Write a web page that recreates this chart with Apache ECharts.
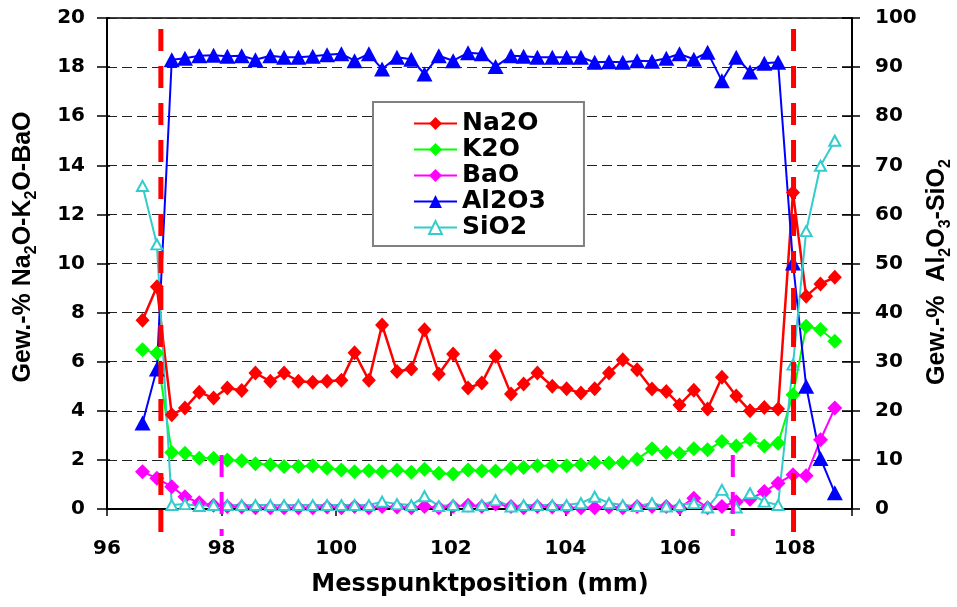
<!DOCTYPE html>
<html><head><meta charset="utf-8">
<script src="https://cdn.jsdelivr.net/npm/echarts/dist/echarts.min.js"></script>
<style>html,body{margin:0;padding:0;background:#fff}#c{width:957px;height:607px}</style>
</head><body><div id="c"></div>
<script>
// Measurement positions (mm)
const positions = [96.62, 96.87, 97.13, 97.36, 97.61, 97.86, 98.10, 98.35, 98.59, 98.85,
  99.09, 99.34, 99.59, 99.84, 100.09, 100.32, 100.57, 100.80, 101.06, 101.31,
  101.54, 101.79, 102.04, 102.30, 102.54, 102.78, 103.05, 103.27, 103.51, 103.77,
  104.02, 104.27, 104.51, 104.76, 105.00, 105.25, 105.51, 105.76, 105.99, 106.24,
  106.48, 106.73, 106.98, 107.22, 107.47, 107.71, 107.97, 108.20, 108.45, 108.70];
// left axis (Gew.-%)
const na2o = [7.69, 9.05, 3.84, 4.11, 4.76, 4.52, 4.93, 4.83, 5.54, 5.2,
  5.54, 5.2, 5.16, 5.2, 5.24, 6.36, 5.24, 7.5, 5.6, 5.7,
  7.3, 5.5, 6.31, 4.93, 5.13, 6.22, 4.68, 5.09, 5.54, 5.0,
  4.9, 4.72, 4.9, 5.54, 6.08, 5.67, 4.89, 4.79, 4.24, 4.84,
  4.07, 5.37, 4.6, 4.0, 4.13, 4.07, 12.89, 8.67, 9.17, 9.44];
const k2o = [6.49, 6.35, 2.3, 2.27, 2.07, 2.07, 2.0, 1.97, 1.84, 1.8,
  1.73, 1.73, 1.76, 1.66, 1.59, 1.52, 1.56, 1.52, 1.58, 1.5,
  1.62, 1.46, 1.43, 1.59, 1.55, 1.55, 1.66, 1.69, 1.76, 1.76,
  1.76, 1.8, 1.89, 1.87, 1.89, 2.03, 2.45, 2.3, 2.26, 2.45,
  2.41, 2.75, 2.57, 2.84, 2.57, 2.68, 4.65, 7.44, 7.31, 6.83];
const bao = [1.52, 1.25, 0.91, 0.5, 0.25, 0.15, 0.1, 0.08, 0.05, 0.05,
  0.05, 0.05, 0.05, 0.08, 0.05, 0.1, 0.05, 0.1, 0.08, 0.05,
  0.1, 0.05, 0.1, 0.15, 0.1, 0.2, 0.1, 0.05, 0.1, 0.08,
  0.05, 0.05, 0.05, 0.08, 0.05, 0.1, 0.1, 0.1, 0.05, 0.44,
  0.05, 0.1, 0.3, 0.4, 0.71, 1.05, 1.4, 1.35, 2.82, 4.11];
// right axis (Gew.-%)
const al2o3 = [17.5, 28.5, 91.5, 91.8, 92.3, 92.4, 92.2, 92.3, 91.5, 92.3,
  92.0, 92.0, 92.2, 92.5, 92.7, 91.3, 92.7, 89.6, 92.0, 91.6,
  88.6, 92.3, 91.3, 92.9, 92.7, 90.1, 92.3, 92.2, 92.0, 92.0,
  92.0, 92.0, 91.0, 91.1, 91.0, 91.3, 91.2, 91.8, 92.7, 91.6,
  93.0, 87.2, 92.0, 89.0, 90.8, 91.0, 50.1, 25.0, 10.3, 3.3];
const sio2 = [65.8, 53.9, 0.8, 1.0, 0.6, 0.8, 0.8, 0.8, 0.8, 0.8,
  0.8, 0.8, 0.8, 0.8, 0.8, 0.8, 0.8, 1.5, 1.0, 0.8,
  2.6, 0.6, 0.8, 0.5, 0.8, 1.8, 0.5, 0.8, 0.8, 0.8,
  0.8, 1.2, 2.5, 1.2, 0.8, 0.6, 1.2, 0.5, 0.8, 1.2,
  0.3, 3.9, 0.3, 3.2, 1.5, 0.8, 29.4, 56.6, 69.9, 75.0];
// boundary markers (mm)
const redMarkers = [96.94, 107.98];
const magentaMarkers = [98.0, 106.92];
const seriesNames = ['Na2O', 'K2O', 'BaO', 'Al2O3', 'SiO2'];

const pts = arr => positions.map((x, i) => [x, arr[i]]);
const FONT = 'DejaVu Sans';
const chart = echarts.init(document.getElementById('c'), null, {renderer: 'canvas'});

const lineSeries = (name, data, color, symbol, size, yIdx, extra) => Object.assign({
  name, type: 'line', data: pts(data), yAxisIndex: yIdx,
  symbol, symbolSize: size, showSymbol: true,
  lineStyle: {color, width: 2},
  itemStyle: {color, borderWidth: 0},
  emphasis: {disabled: true}, animation: false, z: 2
}, extra || {});

const markerLine = (x, color, yTop, yBot, width, dash) => ({
  type: 'line', data: [[x, yTop], [x, yBot]], yAxisIndex: 0, symbol: 'none',
  clip: false, silent: true, z: 5, animation: false,
  lineStyle: {color, width, type: dash, cap: 'butt'},
  emphasis: {disabled: true}
});

const axisLabelStyle = {fontFamily: FONT, fontWeight: 'bold', fontSize: 20, color: '#000'};
const titleRich = {
  n: {fontFamily: 'Liberation Sans', fontWeight: 'bold', fontSize: 25, lineHeight: 25, verticalAlign: 'top', fill: '#000'},
  s: {fontFamily: 'Liberation Sans', fontWeight: 'bold', fontSize: 16, lineHeight: 16, padding: [13, 0, 0, 0], verticalAlign: 'top', fill: '#000'}
};

const option = {
  animation: false,
  grid: {left: 107, right: 105, top: 18, bottom: 98, containLabel: false, outerBoundsMode: 'none',
    show: true, borderColor: '#000', borderWidth: 1.5, backgroundColor: 'transparent'},
  xAxis: {
    type: 'value', min: 96, max: 109, interval: 2,
    axisLine: {onZero: false, lineStyle: {color: '#000', width: 2}},
    axisTick: {show: true, inside: false, length: 7, lineStyle: {color: '#000', width: 1.5}},
    axisLabel: Object.assign({margin: 30, formatter: v => (v % 2 === 0 ? String(v) : '')}, axisLabelStyle),
    splitLine: {show: false}
  },
  yAxis: [
    {type: 'value', position: 'left', min: 0, max: 20, interval: 2,
      axisLine: {show: true, lineStyle: {color: '#000', width: 2}},
      axisTick: {show: true, length: 10, lineStyle: {color: '#000', width: 1.5}},
      axisLabel: Object.assign({margin: 22}, axisLabelStyle),
      splitLine: {show: true, lineStyle: {color: '#222', width: 1, type: [10, 5]}}},
    {type: 'value', position: 'right', min: 0, max: 100, interval: 10,
      axisLine: {show: true, lineStyle: {color: '#000', width: 2}},
      axisTick: {show: true, length: 8, lineStyle: {color: '#000', width: 1.5}},
      axisLabel: Object.assign({margin: 23}, axisLabelStyle),
      splitLine: {show: false}},
    {type: 'value', position: 'left', min: 0, max: 20, interval: 2,
      axisLine: {show: false}, axisLabel: {show: false}, splitLine: {show: false},
      axisTick: {show: true, inside: true, length: 3, lineStyle: {color: '#000', width: 1.5}}},
    {type: 'value', position: 'right', min: 0, max: 100, interval: 10,
      axisLine: {show: false}, axisLabel: {show: false}, splitLine: {show: false},
      axisTick: {show: true, inside: true, length: 10, lineStyle: {color: '#000', width: 1.5}}}
  ],
  legend: {
    show: true, orient: 'vertical', left: 373, top: 102,
    data: seriesNames,
    backgroundColor: '#fff', borderColor: '#808080', borderWidth: 2, borderRadius: 0,
    padding: [9, 38, 6, 40], itemGap: 1, itemWidth: 43, itemHeight: 16,
    textStyle: {fontFamily: FONT, fontWeight: 'bold', fontSize: 25, color: '#000', lineHeight: 25},
    selectedMode: false
  },
  graphic: [
    {type: 'text', x: 23, y: 247, rotation: Math.PI / 2, silent: true,
      style: {text: '{n|Gew.-% Na}{s|2}{n|O-K}{s|2}{n|O-BaO}', align: 'center', verticalAlign: 'middle', rich: titleRich}},
    {type: 'text', x: 937, y: 272, rotation: Math.PI / 2, silent: true,
      style: {text: '{n|Gew.-%  Al}{s|2}{n|O}{s|3}{n|-SiO}{s|2}', align: 'center', verticalAlign: 'middle', rich: titleRich}},
    {type: 'text', x: 480, y: 585, silent: true,
      style: {text: 'Messpunktposition (mm)', align: 'center', verticalAlign: 'middle',
        font: 'bold 24px "DejaVu Sans"', fill: '#000'}}
  ],
  series: [
    lineSeries('Na2O', na2o, '#FF0000', 'diamond', [14, 15], 0, {lineStyle: {color: '#FF0000', width: 2.5}}),
    lineSeries('K2O', k2o, '#00FF00', 'diamond', [15, 15], 0),
    lineSeries('BaO', bao, '#FF00FF', 'diamond', [15, 15], 0),
    lineSeries('Al2O3', al2o3, '#0000FF', 'triangle', [16, 15], 1),
    lineSeries('SiO2', sio2, '#33CCCC', 'emptyTriangle', [11, 10], 1,
      {itemStyle: {color: '#33CCCC', borderColor: '#33CCCC', borderWidth: 1.2}}),
    markerLine(magentaMarkers[0], '#FF00FF', 2.2, -1.1, 4, [22, 15]),
    markerLine(magentaMarkers[1], '#FF00FF', 2.2, -1.1, 4, [22, 15]),
    markerLine(redMarkers[0], '#FF0000', 19.55, -1.3, 5, [22, 15]),
    markerLine(redMarkers[1], '#FF0000', 19.55, -1.3, 5, [22, 15])
  ]
};
chart.setOption(option);
</script>
</body></html>
